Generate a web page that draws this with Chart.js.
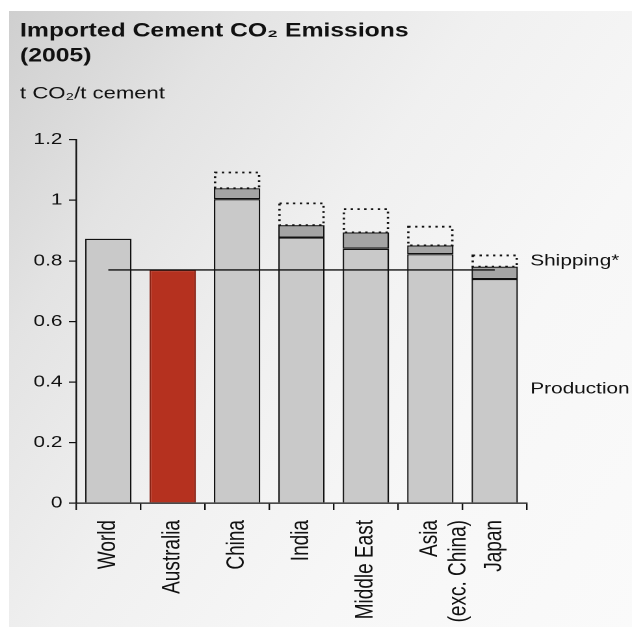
<!DOCTYPE html>
<html>
<head>
<meta charset="utf-8">
<title>Imported Cement CO2 Emissions (2005)</title>
<script src="https://cdn.jsdelivr.net/npm/chart.js@4.4.1/dist/chart.umd.min.js"></script>
<style>
  html, body { margin: 0; padding: 0; background: #fff; }
  #wrap { position: relative; width: 632px; height: 627px; overflow: hidden; background: #fff; }
  #panel {
    position: absolute; left: 9px; top: 11px; right: 0; bottom: 0;
    background: linear-gradient(125deg, #cfcfcf 0%, #e3e3e3 22%, #f0f0f0 45%, #f7f7f7 70%, #fafafa 100%);
  }
  #chart { position: absolute; left: 0; top: 0; }
</style>
</head>
<body>
<div id="wrap">
  <div id="panel"></div>
  <!-- drawn on a narrower canvas and stretched sideways, like the source picture -->
  <canvas id="chart" width="486" height="627" style="width:632px;height:627px"></canvas>
</div>
<script>
const categories = ['World', 'Australia', 'China', 'India', 'Middle East', ['Asia', '(exc. China)'], 'Japan'];
const production = [0.873, 0.770, 1.004, 0.877, 0.840, 0.822, 0.740];
const shippingTop = [null, null, 1.040, 0.918, 0.894, 0.851, 0.781];
const shippingRangeTop = [null, null, 1.092, 0.990, 0.971, 0.913, 0.818];
const australiaLevel = [0.77, 0.77, 0.77, 0.77, 0.77, 0.77, 0.77];
const yTicks = [0, 0.2, 0.4, 0.6, 0.8, 1, 1.2];
const sideLabels = ['Shipping*', 'Production'];
const sideLabelValues = [0.80, 0.377];

const FONT = "'Liberation Sans', Arial, Helvetica, sans-serif";
const INK = '#111';
const highlight = 'Australia';

// floating bars [bottom, top] for the stacked-looking bands
const shippingBands = shippingTop.map((v, i) => v == null ? null : [production[i], v]);
const rangeBands = shippingRangeTop.map((v, i) => v == null ? null : [shippingTop[i], v]);

// Chart.js bars have no dash option, so the dotted range boxes are stroked here
const dottedBoxes = {
  id: 'dottedBoxes',
  afterDatasetsDraw(chart) {
    const meta = chart.getDatasetMeta(2);
    const raw = chart.data.datasets[2].data;
    const ctx = chart.ctx;
    ctx.save();
    ctx.strokeStyle = '#111';
    ctx.lineWidth = 1.8;
    ctx.setLineDash([1.8, 3.4]);
    meta.data.forEach((bar, i) => {
      if (raw[i] == null) return;
      const { x, y, base, width } = bar.getProps(['x', 'y', 'base', 'width'], true);
      if (!Number.isFinite(y) || !Number.isFinite(base)) return;
      ctx.strokeRect(x - width / 2 + 0.9, y, width - 1.8, base - y);
    });
    ctx.restore();
  }
};

const sideText = {
  id: 'sideText',
  afterDraw(chart) {
    const { ctx, chartArea, scales } = chart;
    ctx.save();
    ctx.font = `16px ${FONT}`;
    ctx.fillStyle = INK;
    ctx.textAlign = 'left';
    ctx.textBaseline = 'middle';
    sideLabels.forEach((t, i) => {
      ctx.fillText(t, chartArea.right + 2.5, scales.y.getPixelForValue(sideLabelValues[i]));
    });
    ctx.restore();
  }
};

const ctx = document.getElementById('chart').getContext('2d');
const chart = new Chart(ctx, {
  type: 'bar',
  data: {
    labels: categories,
    datasets: [
      {
        label: 'Production',
        data: production,
        backgroundColor: (c) => categories[c.dataIndex] === highlight ? '#b5311f' : '#c9c9c9',
        borderColor: (c) => categories[c.dataIndex] === highlight ? '#8a2416' : '#111',
        borderWidth: 1.2,
        borderSkipped: 'start',
        grouped: false,
        order: 3
      },
      {
        label: 'Shipping',
        data: shippingBands,
        backgroundColor: '#a4a4a4',
        borderColor: '#111',
        borderWidth: 1.2,
        borderSkipped: false,
        grouped: false,
        order: 2
      },
      {
        label: 'Shipping range',
        data: rangeBands,
        backgroundColor: 'rgba(0,0,0,0)',
        borderWidth: 0,
        grouped: false,
        order: 1
      },
      {
        type: 'line',
        label: 'Australia',
        data: australiaLevel,
        borderColor: '#111',
        borderWidth: 1.3,
        pointRadius: 0,
        fill: false,
        order: 0
      }
    ]
  },
  options: {
    responsive: false,
    devicePixelRatio: 2,
    animation: false,
    barPercentage: 0.72,
    categoryPercentage: 1,
    layout: { padding: { left: 15.4, right: 80.8, top: 0, bottom: 0 } },
    plugins: {
      legend: { display: false },
      tooltip: { enabled: false },
      title: {
        display: true,
        text: ['Imported Cement CO\u2082 Emissions', '(2005)'],
        align: 'start',
        color: INK,
        font: { family: FONT, size: 19, weight: 'bold', lineHeight: 1.3 },
        padding: { top: 19, bottom: 0 }
      },
      subtitle: {
        display: true,
        text: 't CO\u2082/t cement',
        align: 'start',
        color: INK,
        font: { family: FONT, size: 17, lineHeight: 1.2 },
        padding: { top: 15, bottom: 36 }
      }
    },
    scales: {
      x: {
        grid: { drawOnChartArea: false, tickLength: 7, color: '#111', lineWidth: 1.2, offset: true },
        border: { color: '#111', width: 1.3 },
        ticks: {
          maxRotation: 90, minRotation: 90, autoSkip: false, padding: 10,
          color: INK, font: { family: FONT, size: 19, lineHeight: 1.15 }
        },
        afterFit(scale) { scale.height = 124; }
      },
      y: {
        min: 0,
        max: 1.2,
        afterBuildTicks(scale) { scale.ticks = yTicks.map(v => ({ value: v })); },
        grid: { drawOnChartArea: false, tickLength: 5.5, color: '#111', lineWidth: 1.2 },
        border: { color: '#111', width: 1.3 },
        ticks: { padding: 5, color: INK, font: { family: FONT, size: 16 }, callback: (v) => String(v) },
        afterFit(scale) { scale.width = 43.1; }
      }
    }
  },
  plugins: [dottedBoxes, sideText]
});
</script>
</body>
</html>
